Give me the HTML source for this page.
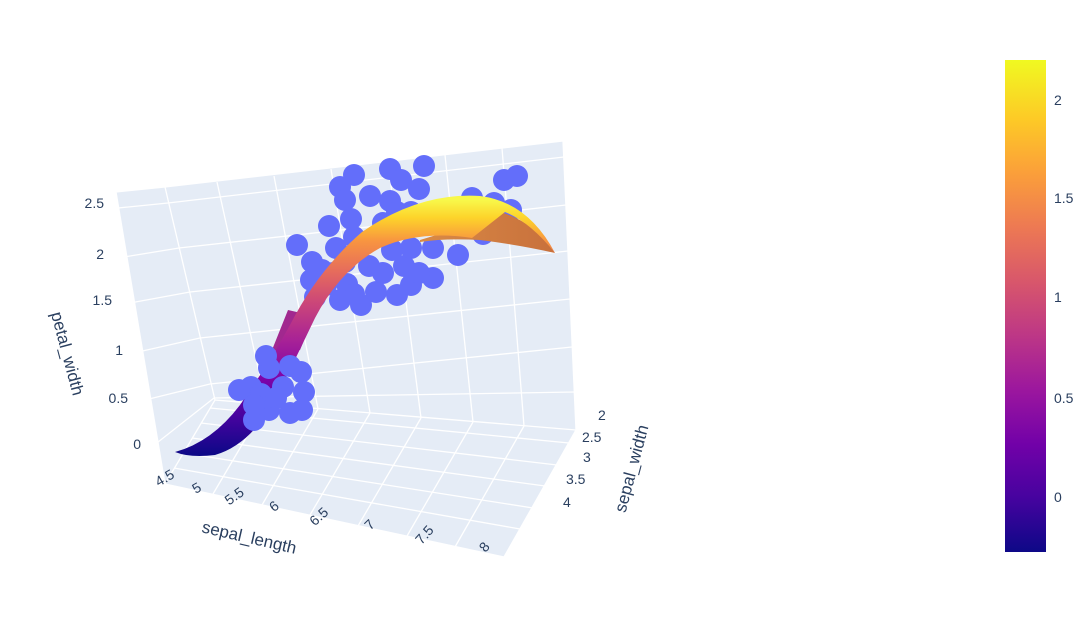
<!DOCTYPE html>
<html><head><meta charset="utf-8"><style>
body{margin:0;background:#fff;}
svg text{font-family:"Liberation Sans",sans-serif;fill:#2a3f5f;}
</style></head><body>
<svg width="1080" height="613" viewBox="0 0 1080 613" xmlns="http://www.w3.org/2000/svg">
<defs>
<linearGradient id="pl" x1="0" y1="1" x2="0" y2="0">
<stop offset="0" stop-color="#0d0887"/><stop offset="0.11" stop-color="#46039f"/><stop offset="0.22" stop-color="#7201a8"/><stop offset="0.33" stop-color="#9c179e"/><stop offset="0.44" stop-color="#bd3786"/><stop offset="0.55" stop-color="#d8576b"/><stop offset="0.66" stop-color="#ed7953"/><stop offset="0.77" stop-color="#fb9f3a"/><stop offset="0.88" stop-color="#fdca26"/><stop offset="1" stop-color="#f0f921"/>
</linearGradient>
<linearGradient id="sg" gradientUnits="userSpaceOnUse" x1="0" y1="455" x2="0" y2="200">
<stop offset="0" stop-color="#0d0887"/><stop offset="0.15" stop-color="#46039f"/><stop offset="0.3" stop-color="#7e03a8"/><stop offset="0.45" stop-color="#a82296"/><stop offset="0.6" stop-color="#cc4778"/><stop offset="0.72" stop-color="#e66c5c"/><stop offset="0.84" stop-color="#f89540"/><stop offset="0.93" stop-color="#fdd32a"/><stop offset="1" stop-color="#f8f84a"/>
</linearGradient>
<linearGradient id="sg2" gradientUnits="userSpaceOnUse" x1="420" y1="0" x2="555" y2="0">
<stop offset="0" stop-color="#d98a45"/><stop offset="1" stop-color="#c8703c"/>
</linearGradient>
</defs>
<polygon points="116,192 165,187 215,400 165,484" fill="#e5ecf6"/>
<polygon points="165,187 563,141 576,430 215,400" fill="#e5ecf6"/>
<polygon points="165,484 215,400 576,430 504,557" fill="#e5ecf6"/>
<g stroke="#fff" stroke-width="1.3" fill="none">
<polyline points="116,192 165,187 563,141 576,430 504,557 165,484 116,192"/>
<polyline points="165,187 215,400 576,430"/><line x1="215" y1="400" x2="165" y2="484"/>
<polyline points="118,208 168,203 564,157"/>
<polyline points="124,257 179,248 566,205"/>
<polyline points="130,303 190,292 568,251"/>
<polyline points="138,352 200,338 570,299"/>
<polyline points="145,400 210,384 572,347"/>
<polyline points="153,446 214,398 575,392"/>
<line x1="217" y1="182" x2="266" y2="404"/><line x1="274" y1="176" x2="318" y2="409"/><line x1="331" y1="169" x2="370" y2="413"/><line x1="388" y1="162" x2="421" y2="418"/><line x1="445" y1="155" x2="473" y2="422"/><line x1="502" y1="148" x2="524" y2="426"/>
<line x1="213" y1="494" x2="266" y2="404"/><line x1="262" y1="505" x2="318" y2="409"/><line x1="310" y1="515" x2="370" y2="413"/><line x1="358" y1="526" x2="421" y2="418"/><line x1="407" y1="536" x2="473" y2="422"/><line x1="455" y1="547" x2="524" y2="426"/>
<line x1="210" y1="408" x2="569" y2="443"/><line x1="201" y1="423" x2="557" y2="465"/><line x1="192" y1="438" x2="545" y2="486"/><line x1="183" y1="453" x2="533" y2="508"/><line x1="174" y1="468" x2="520" y2="529"/>
</g>
<g fill="#636efa">
<circle cx="354" cy="175" r="11"/><circle cx="340" cy="187" r="11"/><circle cx="345" cy="200" r="11"/><circle cx="390" cy="169" r="11"/><circle cx="424" cy="166" r="11"/><circle cx="401" cy="180" r="11"/><circle cx="419" cy="189" r="11"/><circle cx="370" cy="196" r="11"/><circle cx="390" cy="201" r="11"/><circle cx="504" cy="180" r="11"/><circle cx="517" cy="176" r="11"/><circle cx="472" cy="198" r="11"/><circle cx="494" cy="203" r="11"/><circle cx="511" cy="210" r="11"/><circle cx="351" cy="219" r="11"/><circle cx="329" cy="226" r="11"/><circle cx="383" cy="223" r="11"/><circle cx="397" cy="212" r="11"/><circle cx="411" cy="212" r="11"/><circle cx="297" cy="245" r="11"/><circle cx="336" cy="248" r="11"/><circle cx="354" cy="237" r="11"/><circle cx="311" cy="280" r="11"/><circle cx="333" cy="273" r="11"/><circle cx="315" cy="297" r="11"/><circle cx="347" cy="284" r="11"/><circle cx="361" cy="305" r="11"/><circle cx="376" cy="292" r="11"/><circle cx="397" cy="295" r="11"/><circle cx="411" cy="285" r="11"/><circle cx="433" cy="278" r="11"/><circle cx="458" cy="255" r="11"/><circle cx="433" cy="248" r="11"/><circle cx="483" cy="234" r="11"/><circle cx="404" cy="266" r="11"/><circle cx="383" cy="273" r="11"/><circle cx="354" cy="294" r="11"/><circle cx="326" cy="285" r="11"/><circle cx="322" cy="270" r="11"/><circle cx="419" cy="273" r="11"/><circle cx="369" cy="266" r="11"/><circle cx="411" cy="248" r="11"/><circle cx="370" cy="240" r="11"/><circle cx="392" cy="250" r="11"/><circle cx="345" cy="262" r="11"/><circle cx="340" cy="300" r="11"/><circle cx="312" cy="262" r="11"/>
</g>
<path d="M288,310 L314,316 L300,350 L272,350 Z" fill="#a1288f"/>
<path d="M420,240 Q470,225 500,212 Q535,222 555,253 Q520,245 480,240 Q445,238 420,242 Z" fill="url(#sg2)"/>
<path d="M175,452 Q212,442 240,405 Q268,365 290,325 Q318,270 362,232 Q420,192 480,196 Q528,202 555,253 Q530,222 505,212 L472,238 Q420,230 380,248 Q340,270 315,318 Q295,360 275,400 Q250,445 215,455 Q190,458 175,452 Z" fill="url(#sg)"/>
<g fill="#636efa">
<circle cx="269" cy="368" r="11"/><circle cx="290" cy="366" r="11"/><circle cx="251" cy="387" r="11"/><circle cx="239" cy="390" r="11"/><circle cx="261" cy="394" r="11"/><circle cx="283" cy="387" r="11"/><circle cx="304" cy="392" r="11"/><circle cx="301" cy="372" r="11"/><circle cx="302" cy="410" r="11"/><circle cx="290" cy="413" r="11"/><circle cx="269" cy="410" r="11"/><circle cx="254" cy="420" r="11"/><circle cx="265" cy="405" r="11"/><circle cx="254" cy="405" r="11"/><circle cx="276" cy="398" r="11"/><circle cx="266" cy="356" r="11"/>
</g>
<g font-size="14">
<text x="104" y="208" text-anchor="end">2.5</text><text x="104" y="259" text-anchor="end">2</text><text x="112" y="305" text-anchor="end">1.5</text><text x="123" y="355" text-anchor="end">1</text><text x="128" y="403" text-anchor="end">0.5</text><text x="141" y="449" text-anchor="end">0</text>
<text transform="translate(167,482) rotate(-30)" text-anchor="middle">4.5</text>
<text transform="translate(199,492) rotate(-30)" text-anchor="middle">5</text>
<text transform="translate(237,500) rotate(-35)" text-anchor="middle">5.5</text>
<text transform="translate(277,510) rotate(-38)" text-anchor="middle">6</text>
<text transform="translate(322,520) rotate(-42)" text-anchor="middle">6.5</text>
<text transform="translate(373,528) rotate(-45)" text-anchor="middle">7</text>
<text transform="translate(428,538) rotate(-48)" text-anchor="middle">7.5</text>
<text transform="translate(488,550) rotate(-50)" text-anchor="middle">8</text>
<text x="598" y="420">2</text><text x="582" y="442">2.5</text><text x="583" y="462">3</text><text x="566" y="484">3.5</text><text x="563" y="507">4</text>
</g>
<g font-size="17">
<text transform="translate(248,543) rotate(13)" text-anchor="middle">sepal_length</text>
<text transform="translate(62,355) rotate(75)" text-anchor="middle">petal_width</text>
<text transform="translate(637,470) rotate(-75)" text-anchor="middle">sepal_width</text>
</g>
<rect x="1005" y="60" width="41" height="492" fill="url(#pl)"/>
<g font-size="14">
<text x="1054" y="105">2</text><text x="1054" y="203">1.5</text><text x="1054" y="302">1</text><text x="1054" y="403">0.5</text><text x="1054" y="502">0</text>
</g>
</svg>
</body></html>
